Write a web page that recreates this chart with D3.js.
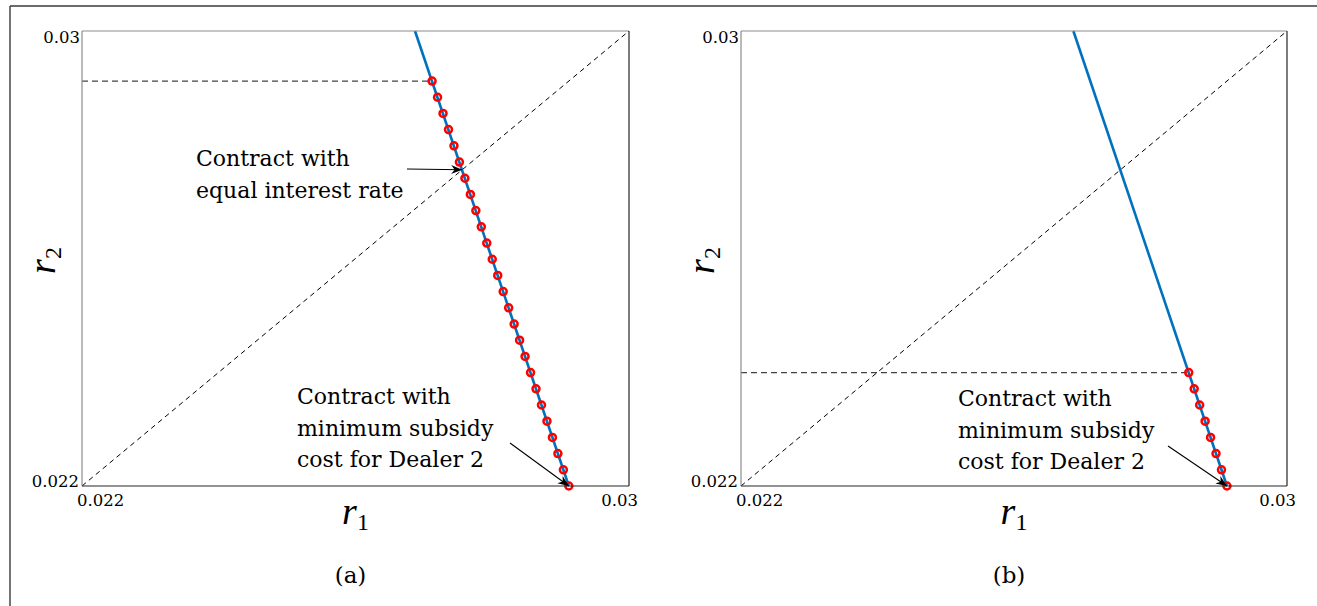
<!DOCTYPE html>
<html>
<head>
<meta charset="utf-8">
<script src="https://cdn.jsdelivr.net/npm/d3@7"></script>
<style>
  html, body { margin: 0; padding: 0; background: #fff; }
  svg { display: block; }
  text { font-family: "DejaVu Serif", "Liberation Serif", serif; fill: #000; }
  .math { font-family: "Liberation Serif", "DejaVu Serif", serif; }
</style>
</head>
<body>
<svg id="chart" width="1317" height="606"></svg>
<script>
// ---------------- data ----------------
const axisDomain = [0.022, 0.03];
const tickLabels = ["0.022", "0.03"];
const tickValues = [0.022, 0.03];

// blue contract curve (both panels)
const curveR1 = [0.02687, 0.02912];
const curveR2 = [0.03, 0.022];

// red markers, panel (a)
const markersA_r1 = [0.02712, 0.02720, 0.02728, 0.02736, 0.02744, 0.02752, 0.02760, 0.02768, 0.02776,
  0.02784, 0.02792, 0.02800, 0.02808, 0.02816, 0.02824, 0.02832, 0.02840, 0.02848, 0.02856,
  0.02864, 0.02872, 0.02880, 0.02888, 0.02896, 0.02904, 0.02912];
const markersA_r2 = [0.029120, 0.028835, 0.028550, 0.028266, 0.027981, 0.027696, 0.027411, 0.027126,
  0.026842, 0.026557, 0.026272, 0.025987, 0.025702, 0.025418, 0.025133, 0.024848, 0.024563,
  0.024278, 0.023994, 0.023709, 0.023424, 0.023139, 0.022854, 0.022570, 0.022285, 0.022000];

// red markers, panel (b)
const markersB_r1 = [0.02856, 0.02864, 0.02872, 0.02880, 0.02888, 0.02896, 0.02904, 0.02912];
const markersB_r2 = [0.023994, 0.023709, 0.023424, 0.023139, 0.022854, 0.022570, 0.022285, 0.022000];

const annotA1 = ["Contract with", "equal interest rate"];
const annotMin = ["Contract with", "minimum subsidy", "cost for Dealer 2"];
const captions = ["(a)", "(b)"];

// ---------------- drawing ----------------
const svg = d3.select("#chart");

// outer frame (top + left)
svg.append("line").attr("x1", 10).attr("y1", 6).attr("x2", 1317).attr("y2", 6)
  .attr("stroke", "#3a3a3a").attr("stroke-width", 1.4);
svg.append("line").attr("x1", 10).attr("y1", 6).attr("x2", 10).attr("y2", 606)
  .attr("stroke", "#3a3a3a").attr("stroke-width", 1.4);

const defs = svg.append("defs");
defs.append("marker").attr("id", "arrow")
  .attr("viewBox", "0 -5 12 10").attr("refX", 11).attr("refY", 0)
  .attr("markerWidth", 12).attr("markerHeight", 10).attr("markerUnits", "userSpaceOnUse")
  .attr("orient", "auto")
  .append("path").attr("d", "M0,-4.5 L11,0 L0,4.5 L3.5,0 Z").attr("fill", "#000");

function drawPanel(cfg) {
  const x = d3.scaleLinear().domain(axisDomain).range([cfg.left, cfg.right]);
  const y = d3.scaleLinear().domain(axisDomain).range([cfg.bottom, cfg.top]);
  const g = svg.append("g");

  // horizontal dashed guide at first marker's r2
  g.append("line")
    .attr("x1", x(axisDomain[0])).attr("x2", x(cfg.m1[0]))
    .attr("y1", y(cfg.m2[0])).attr("y2", y(cfg.m2[0]))
    .attr("stroke", "#444").attr("stroke-width", 1.2).attr("stroke-dasharray", "6,4");

  // diagonal r1 = r2
  g.append("line")
    .attr("x1", x(axisDomain[0])).attr("y1", y(axisDomain[0]))
    .attr("x2", x(axisDomain[1])).attr("y2", y(axisDomain[1]))
    .attr("stroke", "#000").attr("stroke-width", 1).attr("stroke-dasharray", "5,4");

  // blue curve
  const pts = curveR1.map((v, i) => [v, curveR2[i]]);
  g.append("path").datum(pts)
    .attr("d", d3.line().x(d => x(d[0])).y(d => y(d[1])))
    .attr("fill", "none").attr("stroke", "#0072BD").attr("stroke-width", 2.6);

  // markers
  const mk = cfg.m1.map((v, i) => [v, cfg.m2[i]]);
  g.selectAll("circle.mk").data(mk).join("circle").attr("class", "mk")
    .attr("cx", d => x(d[0])).attr("cy", d => y(d[1])).attr("r", 3.5)
    .attr("fill", "none").attr("stroke", "#ff0000").attr("stroke-width", 2.5);

  // axes box: top/left gray, bottom/right dark
  g.append("line").attr("x1", cfg.left).attr("x2", cfg.right).attr("y1", cfg.top).attr("y2", cfg.top)
    .attr("stroke", "#8c8c8c").attr("stroke-width", 1.2);
  g.append("line").attr("x1", cfg.left).attr("x2", cfg.left).attr("y1", cfg.top).attr("y2", cfg.bottom)
    .attr("stroke", "#8c8c8c").attr("stroke-width", 1.2);
  g.append("line").attr("x1", cfg.left).attr("x2", cfg.right).attr("y1", cfg.bottom).attr("y2", cfg.bottom)
    .attr("stroke", "#262626").attr("stroke-width", 1.2);
  g.append("line").attr("x1", cfg.right).attr("x2", cfg.right).attr("y1", cfg.top).attr("y2", cfg.bottom)
    .attr("stroke", "#262626").attr("stroke-width", 1.2);

  // tick labels
  const tfs = 16.5;
  g.append("text").attr("x", x(tickValues[0]) - 3).attr("y", y(tickValues[0]) + 1)
    .attr("text-anchor", "end").attr("font-size", tfs).text(tickLabels[0]);
  g.append("text").attr("x", x(tickValues[0]) - 2).attr("y", y(tickValues[1]) + 12)
    .attr("text-anchor", "end").attr("font-size", tfs).text(tickLabels[1]);
  g.append("text").attr("x", x(tickValues[0]) - 5).attr("y", y(tickValues[0]) + 20)
    .attr("text-anchor", "start").attr("font-size", tfs).text(tickLabels[0]);
  g.append("text").attr("x", x(tickValues[1]) + 9).attr("y", y(tickValues[0]) + 20)
    .attr("text-anchor", "end").attr("font-size", tfs).text(tickLabels[1]);

  // axis labels
  const cx = (cfg.left + cfg.right) / 2;
  const xl = g.append("text").attr("class", "math").attr("x", cx).attr("y", 524).attr("text-anchor", "middle");
  xl.append("tspan").attr("font-style", "italic").attr("font-size", 38).text("r");
  xl.append("tspan").attr("font-size", 24).attr("dy", 6).text("1");

  const yl = g.append("text").attr("class", "math")
    .attr("transform", `translate(${cfg.left - 27},${(cfg.top + cfg.bottom) / 2 + 2}) rotate(-90)`)
    .attr("text-anchor", "middle");
  yl.append("tspan").attr("font-style", "italic").attr("font-size", 38).text("r");
  yl.append("tspan").attr("font-size", 24).attr("dy", 6).text("2");

  // caption
  g.append("text").attr("x", cx - 5).attr("y", 583).attr("text-anchor", "middle")
    .attr("font-size", 23).text(cfg.caption);

  // annotations
  cfg.annots.forEach(a => {
    const t = g.append("text").attr("font-size", 22);
    a.lines.forEach((ln, i) => {
      t.append("tspan").attr("x", a.tx).attr("y", a.ty + i * 31.5).text(ln);
    });
    g.append("line")
      .attr("x1", a.ax).attr("y1", a.ay)
      .attr("x2", x(a.tip[0])).attr("y2", y(a.tip[1]))
      .attr("stroke", "#000").attr("stroke-width", 1.1)
      .attr("marker-end", "url(#arrow)");
  });
}

drawPanel({
  left: 82, right: 629, top: 31, bottom: 486,
  m1: markersA_r1, m2: markersA_r2, caption: captions[0],
  annots: [
    { lines: annotA1, tx: 196, ty: 166, ax: 407, ay: 169, tip: [0.02756, 0.02756] },
    { lines: annotMin, tx: 297, ty: 404, ax: 510, ay: 443, tip: [markersA_r1[25], markersA_r2[25]] }
  ]
});

drawPanel({
  left: 741, right: 1287, top: 31, bottom: 486,
  m1: markersB_r1, m2: markersB_r2, caption: captions[1],
  annots: [
    { lines: annotMin, tx: 958, ty: 406, ax: 1168, ay: 446, tip: [markersB_r1[7], markersB_r2[7]] }
  ]
});
</script>
</body>
</html>
